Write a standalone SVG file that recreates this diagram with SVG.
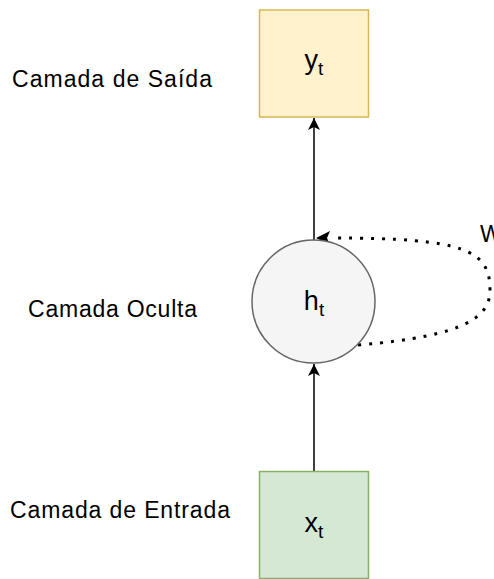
<svg xmlns="http://www.w3.org/2000/svg" width="494" height="579" viewBox="0 0 494 579">
  <style>
    .label { font-family: "Liberation Sans", Arial, sans-serif; font-size: 23px; fill: #000; }
    .sym { font-family: "Liberation Sans", Arial, sans-serif; font-size: 27px; fill: #000; text-anchor: middle; }
    .edge { fill: none; stroke: #000; stroke-width: 1.5; }
    .loop { fill: none; stroke: #000; stroke-width: 3; stroke-dasharray: 3 8; }
  </style>
  <defs>
    <marker id="arrow" markerWidth="12" markerHeight="12" viewBox="0 0 12 12" refX="12" refY="6" orient="auto" markerUnits="userSpaceOnUse">
      <path d="M0,0 L12,6 L0,12 L3,6 Z" fill="#000"/>
    </marker>
  </defs>
  <rect width="494" height="579" fill="#fff"/>

  <!-- connectors -->
  <g id="connectors">
    <path class="edge" d="M314,471.5 L314,364" marker-end="url(#arrow)"/>
    <path class="edge" d="M314,240 L314,118" marker-end="url(#arrow)"/>
    <path class="loop" d="M358,345 C470,336 490,315 490,290 C490,250 465,238 332,238"/>
    <path d="M316,238 L330,231 L327,238 L330,245 Z" fill="#000"/>
  </g>

  <!-- output layer -->
  <g id="node-output">
    <rect x="259.5" y="10" width="109" height="107" fill="#fff2cc" stroke="#d6b656" stroke-width="1.5"/>
    <text class="sym" x="314" y="69">y<tspan font-size="19" dy="6">t</tspan></text>
  </g>

  <!-- hidden layer -->
  <g id="node-hidden">
    <circle cx="313.5" cy="301.5" r="61.5" fill="#f5f5f5" stroke="#666666" stroke-width="1.5"/>
    <text class="sym" x="314" y="310">h<tspan font-size="19" dy="6">t</tspan></text>
  </g>

  <!-- input layer -->
  <g id="node-input">
    <rect x="259.5" y="471.5" width="109" height="107" fill="#d5e8d4" stroke="#82b366" stroke-width="1.5"/>
    <text class="sym" x="314" y="532">x<tspan font-size="19" dy="6">t</tspan></text>
  </g>

  <!-- layer captions -->
  <g id="captions">
    <text class="label" x="12" y="87" textLength="200" lengthAdjust="spacing">Camada de Saída</text>
    <text class="label" x="28" y="317" textLength="169" lengthAdjust="spacing">Camada Oculta</text>
    <text class="label" x="10" y="518" textLength="220" lengthAdjust="spacing">Camada de Entrada</text>
    <text class="label" x="480" y="242">W</text>
  </g>
</svg>
